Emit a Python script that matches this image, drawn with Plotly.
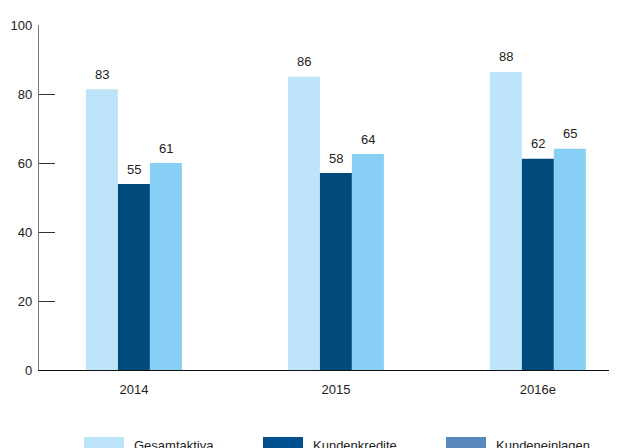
import plotly.graph_objects as go

# ---- data ----
years = ["2014", "2015", "2016e"]
series_names = ["Gesamtaktiva", "Kundenkredite", "Kundeneinlagen"]
gesamtaktiva = [81.4, 85.0, 86.4]
kundenkredite = [53.9, 57.1, 61.2]
kundeneinlagen = [60.0, 62.6, 64.1]
labels_gesamtaktiva = ["83", "86", "88"]
labels_kundenkredite = ["55", "58", "62"]
labels_kundeneinlagen = ["61", "64", "65"]
y_ticks = [0, 20, 40, 60, 80, 100]

# ---- style ----
bar_colors = ["#bee4f9", "#004a7c", "#88cff5"]
legend_colors = ["#bee4f9", "#00508f", "#5b88bc"]
FONT = "Arial, Liberation Sans, sans-serif"
OFF = 8  # page body margin of the browser
W, H = 617 - OFF, 448 - OFF
L, R, T, B = 39 - OFF, 6, 25 - OFF, 78
x_range = [-0.47, 2.362]
bargap = 0.525

values = [gesamtaktiva, kundenkredite, kundeneinlagen]
labels = [labels_gesamtaktiva, labels_kundenkredite, labels_kundeneinlagen]

fig = go.Figure()
for name, vals, col in zip(series_names, values, bar_colors):
    fig.add_trace(go.Bar(x=years, y=vals, name=name, marker=dict(color=col, line=dict(width=0)),
                         showlegend=False))

plot_w = W - L - R
plot_h = H - T - B
px_per_cat = plot_w / (x_range[1] - x_range[0])
bar_px = px_per_cat * (1 - bargap) / len(series_names)

annotations = []
for i, (vals, labs) in enumerate(zip(values, labels)):
    for j, (v, lab) in enumerate(zip(vals, labs)):
        annotations.append(dict(x=j, y=v, xref="x", yref="y", text=lab, showarrow=False,
                                xshift=(i - 1) * bar_px, yshift=15, yanchor="middle",
                                font=dict(family=FONT, size=13, color="#222222")))

# custom legend (swatches wider than plotly's native ones), positions in page pixels
legend_x_px = [84, 263, 446]
sw_w, sw_top, sw_bot = 40, 437, 452
for xpx, col, name in zip(legend_x_px, legend_colors, series_names):
    pass
shapes = []
for xpx, col, name in zip(legend_x_px, legend_colors, series_names):
    x0 = (xpx - OFF - L) / plot_w
    x1 = (xpx - OFF + sw_w - L) / plot_w
    y0 = (H - B - (sw_bot - OFF)) / plot_h
    y1 = (H - B - (sw_top - OFF)) / plot_h
    shapes.append(dict(type="rect", xref="paper", yref="paper", x0=x0, x1=x1, y0=y0, y1=y1,
                       fillcolor=col, line=dict(width=0), layer="above"))
    annotations.append(dict(x=(xpx - OFF + sw_w + 8 - L) / plot_w,
                            y=(H - B - (445 - OFF)) / plot_h,
                            xref="paper", yref="paper", text=name, showarrow=False,
                            xanchor="left", yanchor="middle",
                            font=dict(family=FONT, size=13, color="#222222")))

fig.update_layout(
    width=W, height=H,
    margin=dict(l=L, r=R, t=T, b=B, pad=0, autoexpand=False),
    paper_bgcolor="white", plot_bgcolor="white",
    barmode="group", bargap=bargap, bargroupgap=0,
    font=dict(family=FONT, size=13, color="#222222"),
    annotations=annotations, shapes=shapes,
    xaxis=dict(type="category", range=x_range, showline=True, linecolor="#111111", linewidth=1.2,
               ticks="", showgrid=False, zeroline=False, ticklabelstandoff=7,
               tickfont=dict(family=FONT, size=13, color="#222222")),
    yaxis=dict(range=[0, 100], tickvals=y_ticks, showline=True, linecolor="#777777", linewidth=1.2,
               ticks="inside", ticklen=16, tickcolor="#333333", tickwidth=1.2,
               showgrid=False, zeroline=False, ticklabelstandoff=3,
               tickfont=dict(family=FONT, size=13, color="#222222")),
)

fig.write_html("out.html")
